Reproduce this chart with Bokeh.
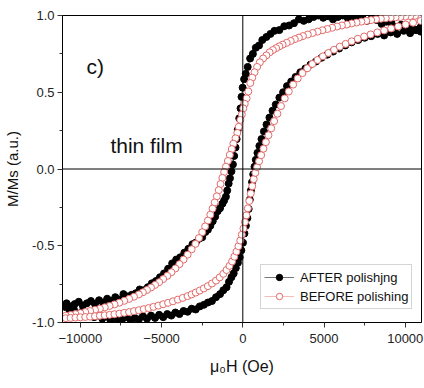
from bokeh.plotting import figure
from bokeh.models import Span, Label, FixedTicker, Range1d, Legend, LegendItem, NumeralTickFormatter
from bokeh.embed import file_html
from bokeh.resources import INLINE

# ---------------- data ----------------
# AFTER polishing: descending branch (+H -> -H)
after_down_H = [10950, 10650, 10350, 10050, 9750, 9450, 9150, 8850, 8550, 8250, 7950, 7650, 7350, 7050,
                6750, 6450, 6150, 5850, 5550, 5250, 4950, 4650, 4350, 4050, 3750, 3450, 3150, 2850, 2550,
                2250, 1950, 1700, 1450, 1200, 1000, 800, 620, 450, 300, 180, 80, -10, -80, -140, -220,
                -310, -380, -450, -530, -610, -700, -790, -870, -960, -1040, -1150, -1250, -1400, -1550,
                -1700, -1850, -2000, -2150, -2300, -2500, -2700, -2900, -3100, -3350, -3600, -3850, -4100,
                -4350, -4600, -4850, -5100, -5350, -5600, -5850, -6100, -6350, -6600, -6850, -7100, -7350,
                -7600, -7850, -8100, -8350, -8600, -8850, -9100, -9350, -9600, -9850, -10100, -10350,
                -10600, -10850]
after_down_M = [0.925, 0.905, 0.930, 0.915, 0.940, 0.925, 0.950, 0.960, 0.945, 0.970, 0.985, 0.965, 0.990,
                0.975, 0.995, 0.985, 1.000, 0.990, 0.975, 0.995, 0.985, 1.000, 0.990, 0.975, 0.965, 0.975,
                0.950, 0.935, 0.930, 0.905, 0.900, 0.880, 0.860, 0.840, 0.805, 0.790, 0.750, 0.720, 0.665,
                0.620, 0.585, 0.530, 0.470, 0.395, 0.330, 0.255, 0.195, 0.140, 0.085, 0.030, -0.015, -0.060,
                -0.095, -0.140, -0.180, -0.205, -0.225, -0.255, -0.275, -0.310, -0.340, -0.370, -0.395,
                -0.410, -0.445, -0.455, -0.480, -0.490, -0.520, -0.545, -0.575, -0.590, -0.615, -0.650,
                -0.680, -0.705, -0.730, -0.745, -0.770, -0.790, -0.785, -0.810, -0.820, -0.830, -0.815,
                -0.850, -0.835, -0.860, -0.845, -0.870, -0.855, -0.880, -0.860, -0.875, -0.890, -0.865,
                -0.880, -0.895, -0.875]
# AFTER polishing: ascending branch (-H -> +H)
after_up_H = [-10900, -10650, -10400, -10150, -9900, -9650, -9400, -9150, -8900, -8650, -8400, -8150, -7900,
              -7650, -7400, -7150, -6900, -6650, -6400, -6150, -5900, -5650, -5400, -5150, -4900, -4650,
              -4400, -4150, -3900, -3650, -3400, -3150, -2900, -2650, -2400, -2150, -1900, -1650, -1400,
              -1200, -1000, -850, -700, -560, -430, -300, -190, -90, 10, 100, 190, 280, 360, 430, 500, 570,
              640, 720, 800, 900, 1020, 1150, 1300, 1460, 1640, 1830, 2030, 2250, 2480, 2720, 2980, 3250,
              3540, 3850, 4170, 4500, 4850, 5200, 5560, 5930, 6310, 6700, 7100, 7500, 7900, 8300, 8700,
              9100, 9500, 9900, 10300, 10700, 10950]
after_up_M = [-0.900, -0.935, -0.915, -0.945, -0.930, -0.955, -0.940, -0.965, -0.950, -0.975, -0.960, -0.985,
              -0.970, -0.990, -0.975, -0.965, -0.985, -0.970, -0.980, -0.960, -0.975, -0.955, -0.970, -0.950,
              -0.965, -0.945, -0.955, -0.935, -0.945, -0.925, -0.930, -0.910, -0.915, -0.895, -0.885, -0.870,
              -0.860, -0.835, -0.815, -0.790, -0.770, -0.735, -0.705, -0.680, -0.645, -0.610, -0.575, -0.530,
              -0.480, -0.420, -0.370, -0.320, -0.260, -0.200, -0.140, -0.085, -0.035, 0.015, 0.060, 0.105,
              0.150, 0.195, 0.245, 0.290, 0.335, 0.380, 0.420, 0.465, 0.500, 0.540, 0.570, 0.600, 0.630, 0.655,
              0.680, 0.700, 0.725, 0.745, 0.765, 0.785, 0.805, 0.825, 0.840, 0.855, 0.865, 0.880, 0.870, 0.890,
              0.880, 0.900, 0.885, 0.905, 0.895]

# BEFORE polishing: descending branch
before_down_H = [10900, 10600, 10300, 10000, 9700, 9400, 9100, 8800, 8500, 8200, 7900, 7600, 7300, 7000,
                 6700, 6400, 6100, 5800, 5500, 5200, 4900, 4600, 4300, 4000, 3700, 3450, 3200, 2950, 2700,
                 2450, 2250, 2050, 1850, 1650, 1450, 1250, 1050, 880, 720, 580, 460, 340, 230, 120, 30, -60,
                 -150, -250, -340, -450, -580, -680, -800, -920, -1040, -1150, -1260, -1370, -1480, -1600,
                 -1730, -1860, -2000, -2150, -2320, -2500, -2700, -2920, -3150, -3400, -3650, -3900, -4150,
                 -4400, -4650, -4900, -5150, -5400, -5650, -5900, -6150, -6400, -6700, -7000, -7300, -7600,
                 -7900, -8200, -8500, -8800, -9100, -9400, -9700, -10000, -10300, -10600, -10900]
before_down_M = [1.000, 0.998, 0.996, 0.993, 0.990, 0.988, 0.985, 0.982, 0.979, 0.975, 0.970, 0.965, 0.960,
                 0.954, 0.948, 0.941, 0.935, 0.928, 0.920, 0.912, 0.904, 0.895, 0.886, 0.876, 0.866, 0.856,
                 0.846, 0.834, 0.822, 0.810, 0.799, 0.787, 0.775, 0.760, 0.740, 0.720, 0.695, 0.665, 0.630,
                 0.595, 0.560, 0.505, 0.460, 0.425, 0.395, 0.355, 0.320, 0.275, 0.235, 0.200, 0.165, 0.130,
                 0.092, 0.052, 0.015, -0.020, -0.058, -0.098, -0.138, -0.178, -0.218, -0.258, -0.298, -0.336,
                 -0.374, -0.412, -0.450, -0.488, -0.523, -0.558, -0.590, -0.620, -0.648, -0.673, -0.696,
                 -0.717, -0.737, -0.755, -0.772, -0.788, -0.803, -0.817, -0.832, -0.846, -0.859, -0.871,
                 -0.882, -0.892, -0.901, -0.910, -0.918, -0.925, -0.932, -0.939, -0.945, -0.951, -0.956]
# BEFORE polishing: ascending branch
before_up_H = [-10900, -10600, -10300, -10000, -9700, -9400, -9100, -8800, -8500, -8200, -7900, -7600, -7300,
               -7000, -6700, -6400, -6100, -5800, -5500, -5200, -4900, -4600, -4300, -4000, -3700, -3400,
               -3150, -2900, -2650, -2400, -2150, -1900, -1650, -1420, -1200, -1000, -820, -660, -520, -390,
               -270, -160, -60, 40, 130, 220, 310, 400, 490, 580, 670, 770, 880, 1000, 1130, 1270, 1420, 1580,
               1750, 1930, 2130, 2350, 2580, 2830, 3100, 3380, 3670, 3970, 4280, 4600, 4930, 5270, 5620, 5970,
               6330, 6700, 7080, 7470, 7870, 8280, 8700, 9130, 9570, 10020, 10480, 10950]
before_up_M = [-0.972, -0.970, -0.968, -0.966, -0.964, -0.962, -0.959, -0.956, -0.953, -0.950, -0.946, -0.942,
               -0.937, -0.932, -0.926, -0.920, -0.913, -0.906, -0.898, -0.890, -0.881, -0.872, -0.862, -0.851,
               -0.840, -0.828, -0.817, -0.805, -0.792, -0.778, -0.763, -0.746, -0.727, -0.706, -0.683, -0.658,
               -0.631, -0.602, -0.571, -0.538, -0.503, -0.466, -0.428, -0.388, -0.346, -0.302, -0.256, -0.208,
               -0.160, -0.112, -0.066, -0.025, 0.012, 0.050, 0.090, 0.132, 0.175, 0.220, 0.265, 0.312, 0.360,
               0.410, 0.460, 0.505, 0.550, 0.590, 0.625, 0.656, 0.684, 0.710, 0.734, 0.756, 0.777, 0.797, 0.815,
               0.832, 0.848, 0.863, 0.877, 0.890, 0.903, 0.916, 0.929, 0.941, 0.953, 0.965]

x_ticks = [-10000, -5000, 0, 5000, 10000]
x_minor = [-7500, -2500, 2500, 7500]
y_ticks = [-1.0, -0.5, 0.0, 0.5, 1.0]
y_minor = [-0.75, -0.25, 0.25, 0.75]
labels = ["AFTER polishjng", "BEFORE polishing"]

after_H = after_down_H + after_up_H
after_M = after_down_M + after_up_M
before_H = before_down_H + before_up_H
before_M = before_down_M + before_up_M

FONT = "Liberation Sans"

p = figure(frame_width=359, frame_height=307, output_backend="svg", toolbar_location=None,
           x_range=Range1d(-11100, 11000), y_range=Range1d(-1.0, 1.0),
           min_border_left=62, min_border_right=3, min_border_top=15, min_border_bottom=66,
           background_fill_color="white", border_fill_color="white")
p.xgrid.visible = False
p.ygrid.visible = False
p.outline_line_color = "black"
p.outline_line_width = 1

for ax in (p.xaxis[0], p.yaxis[0]):
    ax.axis_line_color = "black"
    ax.major_tick_line_color = "#333333"
    ax.minor_tick_line_color = "#333333"
    ax.major_tick_out = 5
    ax.major_tick_in = 0
    ax.minor_tick_out = 3
    ax.minor_tick_in = 0
    ax.major_label_text_font = FONT
    ax.major_label_text_font_size = "13px"
    ax.major_label_text_color = "#222222"
    ax.axis_label_text_font = FONT
    ax.axis_label_text_font_style = "normal"
    ax.axis_label_text_color = "#111111"

p.xaxis.ticker = FixedTicker(ticks=x_ticks, minor_ticks=x_minor)
p.yaxis.ticker = FixedTicker(ticks=y_ticks, minor_ticks=y_minor)
p.yaxis.formatter = NumeralTickFormatter(format="0.0")
p.xaxis.major_label_standoff = 6
p.yaxis.major_label_standoff = 3
p.xaxis.axis_label = "\u03bc\u2080H (Oe)"
p.yaxis.axis_label = "M/Ms (a.u.)"
p.xaxis.axis_label_text_font_size = "16px"
p.yaxis.axis_label_text_font_size = "15px"
p.xaxis.axis_label_standoff = 12
p.yaxis.axis_label_standoff = 8

p.add_layout(Span(location=0, dimension="height", line_color="black", line_width=1))
p.add_layout(Span(location=0, dimension="width", line_color="black", line_width=1))

a_line = p.line(after_H, after_M, line_color="#555555", line_width=0.8)
a_pts = p.scatter(after_H, after_M, marker="circle", size=7, fill_color="black", line_color="black")
b_line = p.line(before_H, before_M, line_color="#f2a8a8", line_width=0.8)
b_pts = p.scatter(before_H, before_M, marker="circle", size=7, fill_color="white", line_color="#e36a6a",
                  line_width=1)

legend = Legend(items=[LegendItem(label=labels[0], renderers=[a_line, a_pts]),
                       LegendItem(label=labels[1], renderers=[b_line, b_pts])],
                location=(198, 13))
legend.glyph_width = 30
legend.glyph_height = 16
legend.label_height = 18
legend.label_standoff = 6
legend.padding = 3
legend.spacing = 1
legend.margin = 0
legend.border_line_color = "#aaaaaa"
legend.border_line_width = 1
legend.label_text_font = FONT
legend.label_text_font_size = "13px"
legend.label_text_color = "#111111"
legend.background_fill_alpha = 1
p.add_layout(legend)

p.add_layout(Label(x=-9630, y=0.668, text="c)", text_font=FONT, text_font_size="21px",
                   text_baseline="alphabetic", text_color="#111111"))
p.add_layout(Label(x=-8150, y=0.153, text="thin film", text_font=FONT, text_font_size="21px",
                   text_baseline="alphabetic", text_color="#111111"))

open("out.html", "w").write(file_html(p, INLINE))
